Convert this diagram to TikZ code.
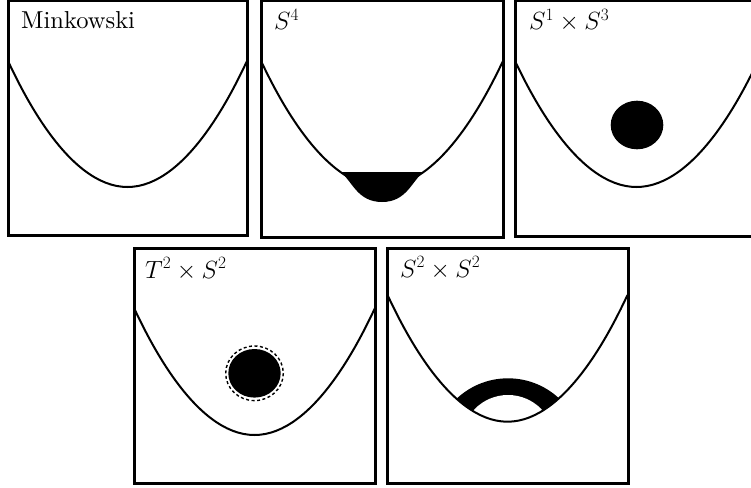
\documentclass[tikz,border=0pt]{standalone}
\font\mkfont="[lmroman10-regular.otf]" at 24.5pt
\begin{document}
\begin{tikzpicture}[x=1pt,y=-1pt,
  frame/.style={line width=3pt},
  bowl/.style={line width=2pt},
  lbl/.style={anchor=base west, inner sep=0pt, font=\fontsize{23}{27}\selectfont}]
\useasboundingbox (0,0) rectangle (751,487);
\clip (0,0) rectangle (751,487);

% ---------- Panel 1: Minkowski ----------
\draw[frame] (8,1) rectangle (247,235);
\draw[bowl] (8,61) parabola bend (127.5,187) (247,61);
\node[lbl, font=\mkfont] (l1) at (21,29) {Minkowski};

% ---------- Panel 2: S^4 ----------
\draw[frame] (261,1) rectangle (503,237);
\draw[bowl] (261,61) parabola bend (382,187) (503,61);
\fill (340.4,172) .. controls (352,180.4) and (357,202) .. (382,202)
      .. controls (407,202) and (412,180.4) .. (423.6,172) -- cycle;
\node[lbl] (l2) at (274,30) {$S^4$};

% ---------- Panel 3: S^1 x S^3 ----------
\draw[frame] (515,1) rectangle (756,236);
\draw[bowl] (515,61) parabola bend (636.5,187) (758,61);
\fill (637,125) ellipse [x radius=26.3, y radius=24.3];
\node[lbl] (l3) at (529,30) {$S^1\times S^3$};

% ---------- Panel 4: T^2 x S^2 ----------
\draw[frame] (134,248) rectangle (375,483);
\draw[bowl] (134,308) parabola bend (254.5,435) (375,308);
\fill (254.5,373.3) ellipse [x radius=26.2, y radius=24.3];
\draw[line width=1.4pt, dash pattern=on 3pt off 2.5pt]
  (254.5,373.3) ellipse [x radius=28.8, y radius=27.3];
\node[lbl] (l4) at (145,278) {$T^2\times S^2$};

% ---------- Panel 5: S^2 x S^2 ----------
\draw[frame] (387,248) rectangle (628,483);
\begin{scope}
  \clip (387.5,295) parabola bend (507.5,421.7) (627.5,295) -- (627.5,250) -- (387.5,250) -- cycle;
  \fill (508,453.3) circle [radius=75];
  \fill[white] (508,441.5) circle [radius=46.5];
\end{scope}
\draw[bowl] (387.5,295) parabola bend (507.5,421.7) (627.5,295);
\node[lbl] (l5) at (400,277) {$S^2\times S^2$};
\end{tikzpicture}
\end{document}
